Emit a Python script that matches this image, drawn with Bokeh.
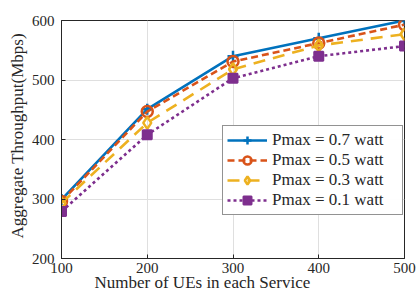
from bokeh.plotting import figure
from bokeh.models import Legend, LegendItem, FixedTicker, Range1d, Title
from bokeh.embed import file_html
from bokeh.resources import INLINE

ues = [100, 200, 300, 400, 500]
p07 = [299, 451, 540, 570, 600]
p05 = [296, 447, 531, 562, 593]
p03 = [293, 428, 518, 558, 577]
p01 = [279, 408, 503, 540, 557]
x_ticks = [100, 200, 300, 400, 500]
y_ticks = [200, 300, 400, 500, 600]
labels = ["Pmax = 0.7 watt", "Pmax = 0.5 watt", "Pmax = 0.3 watt", "Pmax = 0.1 watt"]
x_title = "Number of UEs in each Service"
y_title = "Aggregate Throughput(Mbps)"

FONT = "Liberation Serif"
TXT = "#262626"

p = figure(width=416, height=291, output_backend="svg", toolbar_location=None,
           x_range=Range1d(100, 500), y_range=Range1d(200, 600),
           min_border_left=61, min_border_right=12, min_border_top=20, min_border_bottom=33)

p.xaxis.ticker = FixedTicker(ticks=x_ticks)
p.yaxis.ticker = FixedTicker(ticks=y_ticks)
for ax in (p.xaxis[0], p.yaxis[0]):
    ax.major_label_text_font = FONT
    ax.major_label_text_font_size = "15px"
    ax.major_label_text_color = TXT
    ax.major_tick_in = 4
    ax.major_tick_out = 0
    ax.minor_tick_line_color = None
    ax.axis_line_color = TXT
    ax.major_tick_line_color = TXT
p.xaxis.major_label_standoff = 4
p.yaxis.major_label_standoff = 7

p.add_layout(Title(text=y_title, align="left", offset=20, standoff=4,
                   text_font=FONT, text_font_size="17px", text_font_style="normal",
                   text_color=TXT), "left")
p.add_layout(Title(text=x_title, align="left", offset=33, standoff=-10,
                   text_font=FONT, text_font_size="17px", text_font_style="normal",
                   text_color=TXT), "below")

p.xgrid.grid_line_color = "#dfdfdf"
p.ygrid.grid_line_color = "#dfdfdf"
p.outline_line_color = TXT

series = [
    (p07, "#0072BD", "solid", "cross"),
    (p05, "#D95319", "7 4", "circle"),
    (p03, "#EDB120", "12 8", "diamond"),
    (p01, "#7E2F8E", "3 3", "square"),
]
items = []
for (ys, color, dash, marker), lab in zip(series, labels):
    r1 = p.line(ues, ys, line_color=color, line_width=2.6, line_dash=dash)
    if marker == "cross":
        r2 = p.scatter(ues, ys, marker="cross", size=11, line_color=color, line_width=2.5)
    elif marker == "square":
        r2 = p.scatter(ues, ys, marker="square", size=9, line_color=color, fill_color=color,
                       line_width=2)
    else:
        r2 = p.scatter(ues, ys, marker=marker, size=11 if marker == "circle" else 12,
                       line_color=color, fill_color="white", fill_alpha=0.0, line_width=2.5)
    items.append(LegendItem(label=lab, renderers=[r1, r2]))

legend = Legend(items=items, location=(161, 43), glyph_width=40, glyph_height=20,
                label_height=20, label_width=126, spacing=0, padding=4, margin=0,
                label_text_font=FONT, label_text_font_size="17px", label_text_color=TXT,
                border_line_color=TXT, border_line_width=1, label_standoff=5)
p.add_layout(legend, "center")

open("out.html", "w").write(file_html(p, INLINE))
